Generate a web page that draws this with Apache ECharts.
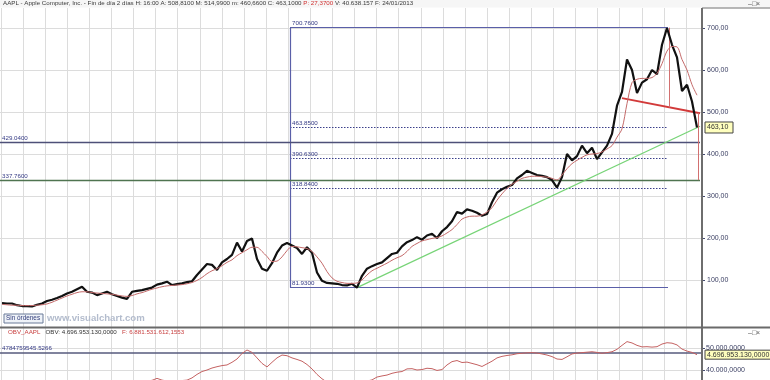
<!DOCTYPE html>
<html><head><meta charset="utf-8">
<script src="https://cdn.jsdelivr.net/npm/echarts@6/dist/echarts.min.js"></script>
<style>html,body{margin:0;padding:0;background:#fff}#c{width:770px;height:380px}</style>
</head><body><div id="c"></div>
<script>
// ---- data (2-day bars, sampled) ----
const price = [45,44,44,40,38,38,37,41,44,50,53,57,62,68,72,78,84,72,70,64,
  68,72,66,62,58,55,72,74,76,79,82,89,92,96,88,90,92,95,97,112,
  125,138,136,124,142,150,160,189,168,193,199,150,127,122,140,165,182,188,182,176,
  162,178,165,118,98,93,92,91,88,87,91,82,110,127,133,138,142,152,162,165,
  180,190,195,202,196,206,210,200,216,226,240,262,258,268,265,260,253,257,285,308,
  316,322,326,342,350,360,355,350,348,345,338,320,345,400,385,395,420,402,415,388,
  404,420,448,515,548,625,600,545,570,578,600,590,660,700,660,630,550,565,525,463];
const ma = [42,41,40,40,39,39,39,40,41,43,47,52,57,62,66,70,72,72,70,69,
  68,67,66,64,62,61,63,67,70,74,78,81,84,86,87,88,89,91,94,99,
  106,115,122,127,134,142,148,158,165,172,178,178,168,156,144,145,155,170,180,179,
  177,175,168,155,140,120,105,97,94,92,92,93,100,112,122,128,134,140,147,153,
  158,168,180,187,193,196,199,201,205,212,220,232,245,250,252,252,255,262,272,290,
  305,318,328,335,342,345,347,347,346,345,342,338,350,365,377,385,392,398,400,401,
  405,412,420,440,460,520,570,578,580,580,582,592,615,645,656,655,625,600,565,540];
const obv = [30,30.5,31,31.5,32,32,32.5,33,33.5,33,32.5,32,32.5,33,33.5,34,34,34.5,34,33.5,
  33,33.5,34,34.5,35,34.5,34,34.5,35,35,35.3,36.2,35.4,35,34.8,35,35.2,35.4,36.4,38,
  39.3,40,40.9,41.5,42,42.3,43.5,45,47.5,49.1,48,45.5,43,41.4,43.5,45.5,46.8,46.5,45.5,44.8,
  44,42.5,40.5,38,36,34.5,34,33.5,33.5,33.8,34,34.5,34.8,35,35.5,36.8,37.3,37.7,38.5,39,
  39.3,40.5,40.6,40,40.2,40.8,40.6,39.8,40.2,42.3,43.8,44.3,43.4,43.6,43,42.4,41.6,42.8,44,45.5,
  46.2,46.6,46.9,47.4,47.6,47.8,47.9,47.7,47.3,46.8,46.1,45,44.8,46,47.3,47.7,47.9,48.1,48.3,48,
  47.6,47.9,48.3,49.4,51.2,52.9,52.3,51.2,50.5,50.6,50.4,50.6,51.8,52.4,52.2,51.4,49.5,48.6,48,46.97];
const priceTicks = [100,200,300,400,500,600,700];
const obvTicks = [40,50];
const fibLevels = [700.76, 463.85, 390.63, 318.84, 81.93];
const fibLabels = ['700.7600','463.8500','390.6300','318.8400','81.9300'];
const fibDotted = [false, true, true, true, false];
const fibStartIdx = 57.6, fibEndIdx = 133.2;
const supportLevels = [429.04, 337.76];
const supportLabels = ['429.0400','337.7600'];
const trendStart = [71, 81.93], trendEnd = [139.6, 466];
const neckStart = [124, 533], neckEnd = [139.6, 497];
const headIdx = 133.4, headTop = 700.76, headBottom = 511;
const targetIdx = 139.2, targetTop = 498, targetBottom = 337.76;
const lastClose = 463.10;
const obvRef = 47.847595455266, obvRefLabel = '4784759545.5266';
const obvLast = 46.9695313;

const FONT = '"Liberation Sans", Arial, sans-serif';
const navy = '#343a84';
const lbl = (t, c) => ({show:true, position:'insideStartTop', formatter:t, color:c||navy, fontSize:6.2, fontFamily:FONT, distance:[2,1]});
const hl = (y, x1, x2, style, label) => [{coord:[x1,y], lineStyle:style, label: label || {show:false}}, {coord:[x2,y]}];

const annot = [];
fibLevels.forEach((v,i)=>{
  annot.push(hl(v, fibStartIdx, fibEndIdx, fibDotted[i] ? {color:'#3a3f8a', width:1, type:[1.5,1.5]} : {color:'#5a5fa8', width:1.2, type:'solid'}, lbl(fibLabels[i])));
});
annot.push([{coord:[fibStartIdx, fibLevels[4]], lineStyle:{color:'#5a5fa8', width:1.2, type:'solid'}, label:{show:false}}, {coord:[fibStartIdx, fibLevels[0]]}]);
annot.push(hl(supportLevels[0], -0.4, 139.6, {color:'#4e5078', width:1.3, type:'solid'}, lbl(supportLabels[0])));
annot.push(hl(supportLevels[1], -0.4, 139.6, {color:'#4f7450', width:1.3, type:'solid'}, lbl(supportLabels[1])));
annot.push([{coord:trendStart, lineStyle:{color:'#77d477', width:1.2, type:'solid'}, label:{show:false}}, {coord:trendEnd}]);
annot.push([{coord:neckStart, lineStyle:{color:'#d23a3a', width:2, type:'solid'}, label:{show:false}}, {coord:neckEnd}]);
annot.push([{coord:[headIdx, headTop], lineStyle:{color:'#d27070', width:1, type:'solid'}, label:{show:false}}, {coord:[headIdx, headBottom]}]);
annot.push([{coord:[targetIdx, targetTop], lineStyle:{color:'#d27070', width:1, type:'solid'}, label:{show:false}}, {coord:[targetIdx, targetBottom]}]);

function fmtObv(v){
  const s = String(Math.round(v*1000));
  return s.replace(/\B(?=(\d{3})+(?!\d))/g,'.') + ',0000';
}
const near = (v, arr) => arr.some(t => Math.abs(Number(v) - t) < 1e-6);

const chart = echarts.init(document.getElementById('c'));
const option = {
  animation:false,
  backgroundColor:'#ffffff',
  grid:[
    {left:0.9, top:8, width:701.1, height:372, outerBoundsMode:'none', containLabel:false},
    {left:0, top:0, width:702, height:322, outerBoundsMode:'none', containLabel:false},
    {left:0, top:326, width:702, height:54, outerBoundsMode:'none', containLabel:false}
  ],
  xAxis:[
    {gridIndex:0, type:'value', min:0, max:701.1, interval:22.1, axisLine:{show:false, onZero:false}, axisTick:{show:false}, axisLabel:{show:false}, splitLine:{show:true, lineStyle:{color:'#dcdcdc', width:1}}},
    {gridIndex:1, type:'value', min:-0.4, max:140, show:false, axisLine:{onZero:false}, splitLine:{show:false}},
    {gridIndex:2, type:'value', min:-0.4, max:140, show:false, axisLine:{onZero:false}, splitLine:{show:false}}
  ],
  yAxis:[
    {gridIndex:0, type:'value', min:0, max:1, show:false, axisLine:{onZero:false}, splitLine:{show:false}},
    {gridIndex:1, type:'value', position:'right', offset:0, min:0, max:322/0.42, interval:100,
      axisLine:{show:false, onZero:false},
      axisTick:{show:true, length:3, customValues:priceTicks, lineStyle:{color:'#444a70'}},
      axisLabel:{show:true, margin:5, fontSize:7, color:'#3c4064', fontFamily:FONT,
        formatter: v => near(v, priceTicks) ? Number(v).toFixed(2).replace('.', ',') : ''},
      splitLine:{show:true, lineStyle:{color:'#dcdcdc', width:1}}},
    {gridIndex:2, type:'value', position:'right', offset:0, min:50 - 32/2.2, max:50 + 22/2.2, splitNumber:2,
      axisLine:{show:false, onZero:false},
      axisTick:{show:true, length:3, customValues:obvTicks, lineStyle:{color:'#444a70'}},
      axisLabel:{show:true, margin:4, fontSize:7, color:'#3c4064', fontFamily:FONT,
        formatter: v => near(v, obvTicks) ? fmtObv(Number(v)) : ''},
      splitLine:{show:true, lineStyle:{color:'#dcdcdc', width:1}}}
  ],
  series:[
    {type:'line', xAxisIndex:1, yAxisIndex:1, data:price.map((v,i)=>[i,v]), showSymbol:false, symbol:'none',
      lineStyle:{color:'#111111', width:2.2}, z:5,
      markLine:{silent:true, symbol:['none','none'], animation:false, data:annot}},
    {type:'line', xAxisIndex:1, yAxisIndex:1, data:ma.map((v,i)=>[i,v]), showSymbol:false, symbol:'none', smooth:0.3,
      lineStyle:{color:'#c46a6a', width:1}, z:6},
    {type:'line', xAxisIndex:2, yAxisIndex:2, data:obv.map((v,i)=>[i,v]), showSymbol:false, symbol:'none',
      lineStyle:{color:'#c46262', width:1}, z:5,
      markLine:{silent:true, symbol:['none','none'], animation:false,
        data:[hl(obvRef, -0.4, 140, {color:'#565a7c', width:1.5, type:'solid'}, lbl(obvRefLabel))]}}
  ]
};
chart.setOption(option);

const yLast = chart.convertToPixel({xAxisIndex:1, yAxisIndex:1}, [0, lastClose])[1];
const yObv = chart.convertToPixel({xAxisIndex:2, yAxisIndex:2}, [0, obvLast])[1];

chart.setOption({graphic:[
  {type:'rect', shape:{x:0,y:0,width:770,height:7.5}, style:{fill:'#f6f6f6'}, z:50},
  {type:'text', x:3, y:0.5, z:60, style:{text:'{a|AAPL - Apple Computer, Inc. - Fin de día 2 días H: 16:00 A: 508,8100 M: 514,9900 m: 460,6600 C: 463,1000 }{r|P: 27,3700}{a| V: 40.638.157 F: 24/01/2013}',
    rich:{a:{fontSize:6.2, fill:'#3a3a3a', fontFamily:FONT}, r:{fontSize:6.2, fill:'#d03030', fontFamily:FONT}}}},
  {type:'text', x:748, y:0.5, z:60, style:{text:'–□×', fontSize:7, fill:'#555', fontFamily:FONT}},
  {type:'line', shape:{x1:702,y1:8,x2:770,y2:8}, style:{stroke:'#707070', lineWidth:1}, z:55},
  {type:'line', shape:{x1:702,y1:8,x2:702,y2:380}, style:{stroke:'#6e6e6e', lineWidth:2}, z:55},
  {type:'line', shape:{x1:0,y1:327.5,x2:770,y2:327.5}, style:{stroke:'#6a6a6a', lineWidth:2}, z:55},
  {type:'rect', shape:{x:4,y:314,width:39,height:9}, style:{fill:'#eef2f8', stroke:'#6a7a98', lineWidth:1}, z:55},
  {type:'text', x:6, y:315, z:56, style:{text:'Sin órdenes', fontSize:6.4, fill:'#2f3a78', fontFamily:FONT}},
  {type:'text', x:47, y:313, z:56, style:{text:'www.visualchart.com', fontSize:9.6, fontWeight:'bold', fill:'#b3bccd', fontFamily:FONT}},
  {type:'text', x:8, y:329.5, z:56, style:{text:'{r|OBV_AAPL}{a|   OBV: 4.696.953.130,0000   }{r|F: 6.881.531.612,1553}',
    rich:{a:{fontSize:6.2, fill:'#333', fontFamily:FONT}, r:{fontSize:6.2, fill:'#c84040', fontFamily:FONT}}}},
  {type:'text', x:748, y:329.5, z:60, style:{text:'–□×', fontSize:7, fill:'#555', fontFamily:FONT}},
  {type:'rect', shape:{x:705,y:yLast-5.5,width:28,height:11}, style:{fill:'#ffffbe', stroke:'#444', lineWidth:1}, z:60},
  {type:'text', x:707, y:yLast-4, z:61, style:{text:lastClose.toFixed(2).replace('.', ','), fontSize:7, fill:'#333', fontFamily:FONT}},
  {type:'rect', shape:{x:705,y:yObv-4.5,width:70,height:9}, style:{fill:'#ffffbe', stroke:'#444', lineWidth:1}, z:60},
  {type:'text', x:707, y:yObv-3.5, z:61, style:{text:'4.696.953.130,0000', fontSize:7, fill:'#333', fontFamily:FONT}}
]});
</script>
</body></html>
